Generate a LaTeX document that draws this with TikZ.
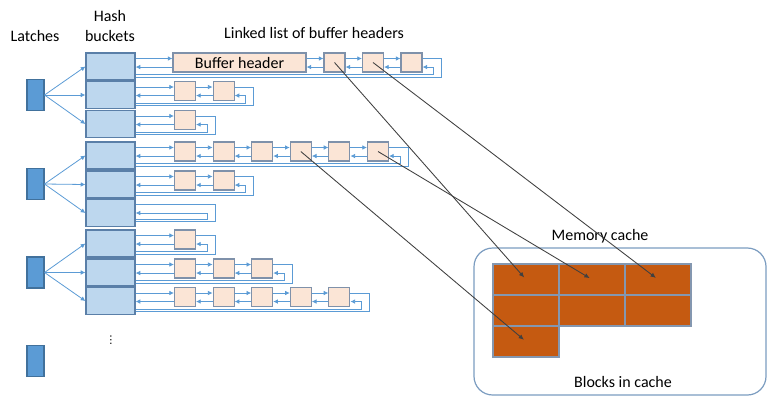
\documentclass[tikz,border=0pt]{standalone}
\usepackage{fontspec}
\setmainfont{Carlito}
\newfontfamily\symfont{DejaVu Sans}
\usetikzlibrary{arrows.meta,positioning}
\definecolor{latchblue}{HTML}{5B9BD5}
\definecolor{latchedge}{HTML}{41719C}
\definecolor{bucketfill}{HTML}{BDD7EE}
\definecolor{bucketedge}{HTML}{5A7FA8}
\definecolor{hdrfill}{HTML}{FBE5D6}
\definecolor{hdredge}{HTML}{7F91AA}
\definecolor{linkblue}{HTML}{5B9BD5}
\definecolor{blockfill}{HTML}{C55A11}
\definecolor{blockedge}{HTML}{8497B0}
\definecolor{cacheedge}{HTML}{7B9CC0}
\definecolor{ptrgray}{HTML}{404040}
\tikzset{
  latch/.style={draw=latchedge, fill=latchblue, line width=0.8pt, minimum width=12.75pt, minimum height=23.25pt, inner sep=0pt},
  bucket/.style={draw=bucketedge, fill=bucketfill, line width=0.9pt, minimum width=36.75pt, minimum height=20.25pt, inner sep=0pt},
  hdr/.style={draw=hdredge, fill=hdrfill, line width=0.8pt, minimum width=15.75pt, minimum height=14.25pt, inner sep=0pt},
  link/.style={draw=linkblue, line width=0.6pt, -{Latex[length=3.5pt,width=3.5pt]}},
  backlink/.style={draw=linkblue, line width=0.6pt},
  block/.style={draw=blockedge, fill=blockfill, line width=0.8pt, minimum width=49.5pt, minimum height=23.25pt, inner sep=0pt},
  ptr/.style={draw=ptrgray, line width=0.65pt, -{Latex[length=4pt,width=3.5pt]}, shorten >=2pt},
  lbl/.style={font=\fontsize{12}{15}\selectfont, inner sep=0pt}
}
\begin{document}
\begin{tikzpicture}[x=0.75pt,y=-0.75pt]
  \useasboundingbox (0,0) rectangle (780,401);

  % Latches and hash buckets
  \foreach \i/\y in {1/95,2/184,3/272.5,4/361}
    \node[latch] (latch\i) at (35.5,\y) {};
  \foreach \k/\y in {0/66.5,1/95,2/124,3/155.5,4/184.5,5/213,6/243.5,7/272.5,8/301}
    \node[bucket] (bucket\k) at (110.5,\y) {};
  \foreach \i/\a/\b/\c in {1/0/1/2,2/3/4/5,3/6/7/8}
    \foreach \k in {\a,\b,\c}
      \draw[link] (latch\i.east) -- (bucket\k.west);

  % Buffer headers of each bucket
  \node[hdr, minimum width=99.75pt, lbl] (h0-0) at ([shift={(129,-4)}]bucket0.center) {Buffer header};
  \foreach \j in {1,2,3}
    \node[hdr] (h0-\j) at ([shift={({224+38.5*(\j-1)},-4)}]bucket0.center) {};
  \foreach \k/\n in {1/2,2/1,3/6,4/2,6/1,7/3,8/5}
    \foreach \j in {1,...,\n}
      \node[hdr] (h\k-\j) at ([shift={({74.5+38.6*(\j-1)},-4)}]bucket\k.center) {};

  % Links along each list, and back to the bucket
  \foreach \k/\f/\l in {0/0/3,1/1/2,2/1/1,3/1/6,4/1/2,6/1/1,7/1/3,8/1/5} {
    \draw[link] ([yshift=3pt]h\k-\f.west -| bucket\k.east) -- ([yshift=3pt]h\k-\f.west);
    \draw[link] ([yshift=-3.4pt]h\k-\f.west) -- ([yshift=-3.4pt]h\k-\f.west -| bucket\k.east);
    \pgfmathtruncatemacro\m{\l-1}
    \ifnum\l>\f
      \foreach \j [evaluate=\j as \nj using int(\j+1)] in {\f,...,\m} {
        \draw[link] ([yshift=3pt]h\k-\j.east) -- ([yshift=3pt]h\k-\nj.west);
        \draw[link] ([yshift=-3.4pt]h\k-\nj.west) -- ([yshift=-3.4pt]h\k-\j.east);
      }
    \fi
    \draw[backlink] ([yshift=3pt]h\k-\l.east) -- ++(19,0) |- ([yshift=-7.9pt]bucket\k.east);
    \draw[link] ([yshift=-6pt]bucket\k.east) -| ([shift={(11,0)},yshift=-3.4pt]h\k-\l.east) -- ([yshift=-3.4pt]h\k-\l.east);
  }
  % Empty bucket points to itself
  \draw[backlink] ([yshift=6.75pt]bucket5.east) -- ++(80,0) |- ([yshift=-6.5pt]bucket5.east);
  \draw[link] ([yshift=-4.5pt]bucket5.east) -- ++(72,0) |- (bucket5.east);

  \node[inner sep=0pt, font=\symfont\fontsize{8}{8}\selectfont] (more) at (111,340) {⋮};

  % Memory cache and its blocks
  \node[draw=cacheedge, line width=0.9pt, rounded corners=14pt, minimum width=219pt, minimum height=110.25pt] (cache) at (620,321.5) {};
  \foreach \r/\c in {0/0,0/1,0/2,1/0,1/1,1/2,2/0}
    \node[block] (blk\r\c) at ({526+66*\c},{279.5+31*\r}) {};

  % Labels
  \node[lbl] (latchlbl) at (35,36) {Latches};
  \node[lbl, align=center] (hashlbl) at (110,26) {Hash\\buckets};
  \node[lbl] (listlbl) at (314,33) {Linked list of buffer headers};
  \node[lbl] (cachelbl) at (600,236) {Memory cache};
  \node[lbl] (blockslbl) at (623,382) {Blocks in cache};

  % Headers point to their blocks
  \draw[ptr] (h0-1.center) -- (blk00.center);
  \draw[ptr] (h0-2.center) -- (blk02.center);
  \draw[ptr] (h3-4.center) -- (blk20.center);
  \draw[ptr] (h3-6.center) -- (blk01.center);
\end{tikzpicture}
\end{document}
